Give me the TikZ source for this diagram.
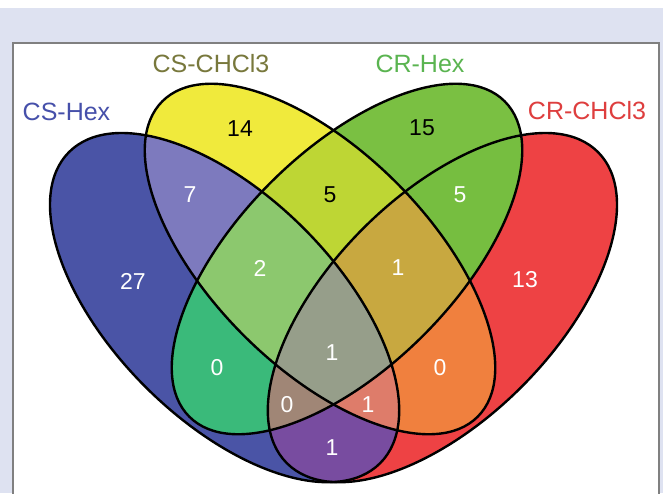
\documentclass[tikz,border=0pt]{standalone}
\usepackage{fontspec}
\setmainfont{Liberation Sans}
\definecolor{lav}{RGB}{222,226,241}
\definecolor{frameg}{RGB}{128,128,128}
\definecolor{cB}{RGB}{74,84,166}
\definecolor{cY}{RGB}{240,234,60}
\definecolor{cG}{RGB}{122,192,66}
\definecolor{cR}{RGB}{238,66,68}
\definecolor{cBY}{RGB}{125,122,190}
\definecolor{cBG}{RGB}{58,186,122}
\definecolor{cBR}{RGB}{120,76,160}
\definecolor{cYG}{RGB}{190,214,52}
\definecolor{cYR}{RGB}{240,128,62}
\definecolor{cGR}{RGB}{118,190,64}
\definecolor{cBYG}{RGB}{140,200,110}
\definecolor{cBYR}{RGB}{222,124,106}
\definecolor{cBGR}{RGB}{160,134,118}
\definecolor{cYGR}{RGB}{200,168,64}
\definecolor{cBYGR}{RGB}{150,158,138}
\definecolor{tB}{RGB}{70,80,170}
\definecolor{tY}{RGB}{120,120,60}
\definecolor{tG}{RGB}{90,180,80}
\definecolor{tR}{RGB}{222,62,62}
\begin{document}
\begin{tikzpicture}[x=1pt,y=1pt,
  elB/.style={insert path={(224.6,-307.6) ellipse [x radius=220pt, y radius=112pt, rotate=-45]}},
  elR/.style={insert path={(442.4,-307.6) ellipse [x radius=220pt, y radius=112pt, rotate=45]}},
  elY/.style={insert path={(320,-259) ellipse [x radius=223pt, y radius=108pt, rotate=-45]}},
  elG/.style={insert path={(347,-259) ellipse [x radius=223pt, y radius=108pt, rotate=45]}},
  setlabel/.style={font=\fontsize{25}{30}\selectfont, inner sep=0pt},
  num/.style={font=\fontsize{23}{28}\selectfont, inner sep=0pt, text=white},
  numdark/.style={num, text=black},
  outline/.style={draw=black, line width=2.4pt}
]
\useasboundingbox (0,0) rectangle (663,-493);
% background
\fill[white] (0,0) rectangle (663,-493);
\fill[lav] (0,-8) rectangle (663,-493);
\fill[white] (13,-43) rectangle (659,-493);
\draw[frameg, line width=1.4pt] (13,-494) -- (13,-43) -- (659,-43) -- (659,-494);
% single sets
\fill[cB, elB];
\fill[cR, elR];
\fill[cY, elY];
\fill[cG, elG];
% pairs
\begin{scope}\clip[elB]; \fill[cBY, elY]; \end{scope}
\begin{scope}\clip[elB]; \fill[cBG, elG]; \end{scope}
\begin{scope}\clip[elB]; \fill[cBR, elR]; \end{scope}
\begin{scope}\clip[elY]; \fill[cYG, elG]; \end{scope}
\begin{scope}\clip[elY]; \fill[cYR, elR]; \end{scope}
\begin{scope}\clip[elG]; \fill[cGR, elR]; \end{scope}
% triples
\begin{scope}\clip[elB]; \clip[elY]; \fill[cBYG, elG]; \end{scope}
\begin{scope}\clip[elB]; \clip[elY]; \fill[cBYR, elR]; \end{scope}
\begin{scope}\clip[elB]; \clip[elG]; \fill[cBGR, elR]; \end{scope}
\begin{scope}\clip[elY]; \clip[elG]; \fill[cYGR, elR]; \end{scope}
% all four
\begin{scope}\clip[elB]; \clip[elY]; \clip[elG]; \fill[cBYGR, elR]; \end{scope}
% outlines
\path[outline, elB];
\path[outline, elR];
\path[outline, elY];
\path[outline, elG];
% set labels
\node[setlabel, text=tB] (lB) at (66.5,-111.5) {CS-Hex};
\node[setlabel, text=tY] (lY) at (211,-64) {CS-CHCl3};
\node[setlabel, text=tG] (lG) at (420,-64) {CR-Hex};
\node[setlabel, text=tR] (lR) at (587,-111) {CR-CHCl3};
% counts
\node[num] (nB) at (133,-281) {27};
\node[numdark] (nY) at (240,-129) {14};
\node[numdark] (nG) at (422,-128) {15};
\node[num] (nR) at (525,-280) {13};
\node[num] (nBY) at (190,-195) {7};
\node[numdark] (nYG) at (330,-195) {5};
\node[num] (nGR) at (460,-195) {5};
\node[num] (nBYG) at (260,-268) {2};
\node[num] (nYGR) at (398,-268) {1};
\node[num] (nBG) at (217,-368) {0};
\node[num] (nYR) at (440,-368) {0};
\node[num] (nAll) at (332,-353) {1};
\node[num] (nBGR) at (287,-405) {0};
\node[num] (nBYR) at (368,-405) {1};
\node[num] (nBR) at (332,-448) {1};
\end{tikzpicture}
\end{document}
